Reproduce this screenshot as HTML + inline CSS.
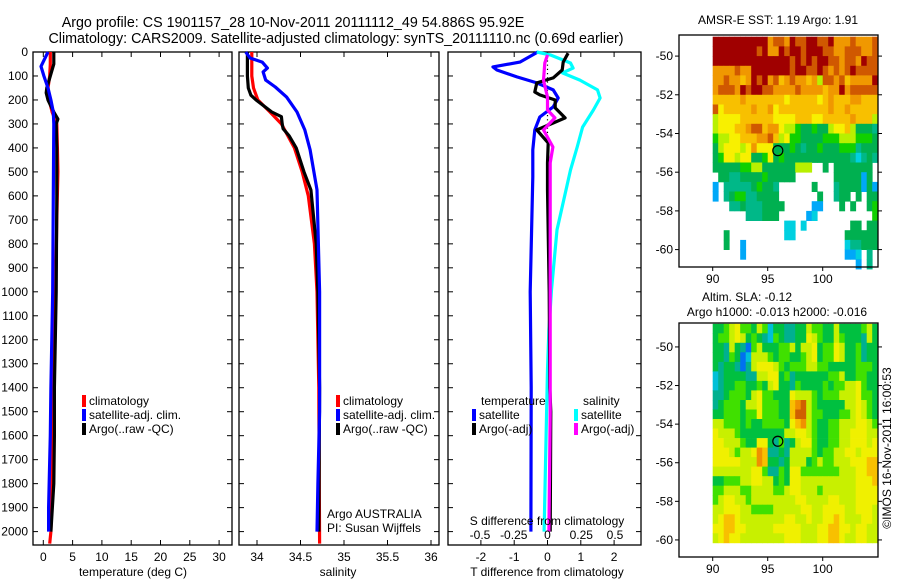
<!DOCTYPE html>
<html><head><meta charset="utf-8">
<style>
html,body{margin:0;padding:0;background:#fff;}
svg{display:block;font-family:"Liberation Sans",sans-serif;}
text{font-size:12px;fill:#000;}
</style></head>
<body>
<svg id="chart" width="900" height="580" viewBox="0 0 900 580" xmlns="http://www.w3.org/2000/svg">
<text x="293" y="27" text-anchor="middle" style="font-size:14.3px">Argo profile: CS 1901157_28 10-Nov-2011 20111112_49 54.886S 95.92E</text>
<text x="336" y="43" text-anchor="middle" style="font-size:14.3px">Climatology: CARS2009. Satellite-adjusted climatology: synTS_20111110.nc (0.69d earlier)</text>
<g id="g"></g>
</svg>
<script>
// ---------- data ----------
var tDepthClim = [0,50,100,150,200,250,300,400,500,700,1000,1400,1600,1800,2000,2050];
var tClim      = [1.2,1.2,1.1,0.8,1.0,1.5,2.3,2.4,2.5,2.3,2.1,1.7,1.6,1.5,1.3,1.1];
var tDepthSat  = [0,30,60,100,150,200,250,300,600,1000,1400,1600,1900,2000];
var tSat       = [0.8,0.2,-0.4,0.1,0.8,1.3,1.7,1.8,1.7,1.6,1.3,1.2,0.9,0.9];
var tDepthArgo = [0,50,100,150,170,200,250,280,300,400,600,1000,1400,1600,1800,2000];
var tArgo      = [1.8,1.8,1.2,0.6,0.5,0.8,1.8,2.5,2.2,2.3,2.3,2.2,1.9,1.9,1.8,1.3];

var sDepthClim = [0,100,150,200,250,300,400,500,600,800,1000,1400,2050];
var sClim      = [33.94,33.94,33.96,34.01,34.15,34.28,34.43,34.52,34.59,34.66,34.69,34.71,34.72];
var sDepthSat  = [0,25,42,67,83,117,146,188,250,325,408,575,1000,1500,1800,2000];
var sSat       = [33.87,33.92,34.06,34.12,34.07,34.10,34.21,34.34,34.46,34.55,34.61,34.69,34.72,34.72,34.70,34.69];
var sDepthArgo = [0,100,150,180,200,250,270,300,320,350,400,500,575,800,1000,1400,2000];
var sArgo      = [33.89,33.89,33.90,33.93,33.99,34.17,34.28,34.29,34.30,34.37,34.45,34.54,34.62,34.68,34.70,34.72,34.71];

var dtDepthSat = [0,42,62,75,104,129,158,192,229,271,325,408,521,1000,1400,2000];
var dtSat      = [-0.29,-0.83,-1.64,-1.52,-0.92,-0.32,0.17,0.32,0.17,-0.23,-0.38,-0.44,-0.44,-0.52,-0.49,-0.5];
var dtDepthArgo= [5,42,75,108,129,167,179,200,233,275,296,325,379,462,575,1000,1400,1500,2000];
var dtArgo     = [0.62,0.47,0.44,0.17,-0.32,-0.38,-0.23,0.23,0.23,0.53,0.17,-0.32,0.02,0,0,0.05,0.07,0.1,0.08];
var dsDepthSat = [0,12,46,67,87,117,158,192,242,313,396,492,742,992,1158,1325,1600,2000];
var dsSat      = [-0.08,0.02,0.17,0.19,0.11,0.24,0.37,0.39,0.34,0.26,0.22,0.17,0.07,0.03,0.01,0,-0.01,-0.025];
var dsDepthArgo= [12,46,117,188,242,275,325,396,462,521,1000,1500,2000];
var dsArgo     = [0,-0.02,-0.03,0,0,0.055,-0.03,0.04,0.02,0.02,0.02,0.02,0.01];

var depthTicks = [0,100,200,300,400,500,600,700,800,900,1000,1100,1200,1300,1400,1500,1600,1700,1800,1900,2000];
var tempTicks = [0,5,10,15,20,25,30];
var salTicks = [34,34.5,35,35.5,36];
var salTickLabels = ["34","34.5","35","35.5","36"];
var dtTicks = [-2,-1,0,1,2];
var dsTicks = [-0.5,-0.25,0,0.25,0.5];
var dsTickLabels = ["-0.5","-0.25","0","0.25","0.5"];
var lonTicks = [90,95,100];
var latTicks = [-50,-52,-54,-56,-58,-60];

// SST map rows (lat -49 .. -60.5 step 0.5, lon 90..105 step 0.5); '.' = missing
var sstRows = [
"aaaaaaaaaa8998a99aa99a88898889",
"aaaaaaaa9a88a9aa9aaa9988999889",
"aaaaaaaaaaaaaa9a9a9aa998998a99",
"8888988aaaaaaa9aa99a98989a9999",
"8898878a9a8978988785998978888a",
"89998a9aa99888898888788a899999",
"777778777777767777767877788777",
"967777787786777777777877877777",
"566667777776666777667777787775",
"566677899788655433433566753332",
"455667778897564433334445554443",
"356665686663334323343334442333",
"346656633463433333333333321232",
"333334455333333555..3.3333333",
".33223333433333.......3333303",
"0.2222234332......3...23333030",
"0.2344223333.......3..233.3.33",
"...2232223333.....00...3.3..34",
"......222333.....01..........4",
".............11.1........33.33",
"..3..........11.........333333",
"..3..0..................122333",
".....0..................001.2.",
"..........................0.2."
];
var sstColors = {"0":"#00a8f8","1":"#00d0e0","2":"#00b888","3":"#00b050","4":"#10d000","5":"#b8f000","6":"#f8f000","7":"#f8c000","8":"#f09800","9":"#d05800","a":"#a00000"};

// SLA map rows (lat -48.8 .. -60.15, 23 rows; lon 90..105 step 0.5)
var slaRows = [
"334564435413322335443353333453",
"344565343214322336543354333253",
"332532045333445355634465334233",
"332430155543443345634465334233",
"323320256665434445544333334443",
"123333225566342333333445334433",
"123344334356332433334344556433",
"223444356443336555434445556443",
"234443556444337895433333556543",
"334443446444337995443334456543",
"554443433444436785433445556654",
"655543333333355665433445566655",
"665554336632423566433445566656",
"666545568722325555434455665666",
"666665558733235553454455566677",
"555555566422436644444445556677",
"334445566553436655555555556667",
"445554455554456655545555556666",
"456655455555555665555665556666",
"556665544445555566556666556665",
"567765555555566556556676555665",
"667766555556666655566776656655",
"567665555555566655566776556655"
];
var slaColors = {"0":"#0070f0","1":"#00c0d8","2":"#00b090","3":"#00c040","4":"#40e000","5":"#c8f000","6":"#f0f000","7":"#f8c000","8":"#f09000","9":"#d06000"};

// ---------- scales ----------
var NS="http://www.w3.org/2000/svg";
var G=document.getElementById('g');
function el(tag,attrs,parent){var e=document.createElementNS(NS,tag);for(var k in attrs)e.setAttribute(k,attrs[k]);(parent||G).appendChild(e);return e;}
var Y0=52, YPX=0.2398;
function yD(d){return Y0+d*YPX;}
function xT(t){return 43.3+t*5.86;}
function xS(s){return 257+(s-34)*87;}
function xDT(t){return 547.5+t*33.3;}
function xDS(s){return 547.5+s*135;}

function frame(x1,x2,y1,y2,name){
  var r=el('rect',{x:x1,y:y1,width:x2-x1,height:y2-y1,fill:'none',stroke:'#000','stroke-width':1.3});
  
  
}
function line(xs,ds,xf,color,name){
  var p=[];for(var i=0;i<xs.length;i++)p.push(xf(xs[i]).toFixed(1)+','+yD(ds[i]).toFixed(1));
  var l=el('polyline',{points:p.join(' '),fill:'none',stroke:color,'stroke-width':3.2,'stroke-linejoin':'round'});
  
  
}
function txt(x,y,s,anchor,name,size){
  var t=el('text',{x:x,y:y,'text-anchor':anchor||'start'});
  if(size)t.style.fontSize=size+'px';
  t.textContent=s;
  
  
  return t;
}
var BOT=545;
function depthAxis(x1,x2,labels){
  depthTicks.forEach(function(d){
    var y=yD(d);
    el('line',{x1:x1,y1:y,x2:x1+5,y2:y,stroke:'#000','stroke-width':1});
    el('line',{x1:x2,y1:y,x2:x2-5,y2:y,stroke:'#000','stroke-width':1});
    if(labels)txt(28,y+4,String(d),'end','depth-tick-label');
  });
}
function xAxis(vals,labels,xf){
  vals.forEach(function(v,i){
    var x=xf(v);
    el('line',{x1:x,y1:Y0,x2:x,y2:Y0+5,stroke:'#000','stroke-width':1});
    el('line',{x1:x,y1:BOT,x2:x,y2:BOT-5,stroke:'#000','stroke-width':1});
    txt(x,561,labels[i],'middle','x-tick-label');
  });
}

// Panel 1: temperature
frame(33,232,Y0,BOT,'temperature-panel');
depthAxis(33,232,true);
xAxis(tempTicks,tempTicks.map(String),xT);
txt(133,576,'temperature (deg C)','middle','temperature-axis-title');
line(tClim,tDepthClim,xT,'#ff0000','temp-climatology-line');
line(tArgo,tDepthArgo,xT,'#000000','temp-argo-line');
line(tSat,tDepthSat,xT,'#0000ff','temp-satellite-line');

// Panel 2: salinity
frame(239,439,Y0,BOT,'salinity-panel');
depthAxis(239,439,false);
xAxis(salTicks,salTickLabels,xS);
txt(338,576,'salinity','middle','salinity-axis-title');
line(sClim,sDepthClim,xS,'#ff0000','sal-climatology-line');
line(sArgo,sDepthArgo,xS,'#000000','sal-argo-line');
line(sSat,sDepthSat,xS,'#0000ff','sal-satellite-line');

// Panel 3: differences
frame(448,641,Y0,BOT,'difference-panel');
depthAxis(448,641,false);
xAxis(dtTicks,dtTicks.map(String),xDT);
txt(547,576,'T difference from climatology','middle','t-difference-axis-title');
el('line',{x1:xDT(0),y1:Y0,x2:xDT(0),y2:yD(600),stroke:'#000','stroke-width':1.2,'stroke-dasharray':'1.2,3'});
line(dtSat,dtDepthSat,xDT,'#0000ff','tdiff-satellite-line');
line(dsSat,dsDepthSat,xDS,'#00ffff','sdiff-satellite-line');
line(dtArgo,dtDepthArgo,xDT,'#000000','tdiff-argo-line');
line(dsArgo,dsDepthArgo,xDS,'#ff00ff','sdiff-argo-line');
txt(547,525,'S difference from climatology','middle','s-difference-axis-title');
dsTicks.forEach(function(v,i){txt(xDS(v),539,dsTickLabels[i],'middle','s-tick-label');});

// legends
function legendEntry(x,y,color,label,name){
  var r=el('rect',{x:x,y:y-10,width:4,height:12,fill:color});
  
  
  txt(x+7,y,label,'start',name);
}
legendEntry(82,405,'#ff0000','climatology','legend-climatology');
legendEntry(82,419,'#0000ff','satellite-adj. clim.','legend-satellite');
legendEntry(82,433,'#000000','Argo(..raw -QC)','legend-argo');
legendEntry(336,405,'#ff0000','climatology','legend2-climatology');
legendEntry(336,419,'#0000ff','satellite-adj. clim.','legend2-satellite');
legendEntry(336,433,'#000000','Argo(..raw -QC)','legend2-argo');
txt(481,405,'temperature','start','legend-temperature-heading');
legendEntry(472,419,'#0000ff','satellite','legend-t-satellite');
legendEntry(472,433,'#000000','Argo(-adj)','legend-t-argo');
txt(583,405,'salinity','start','legend-salinity-heading');
legendEntry(574,419,'#00ffff','satellite','legend-s-satellite');
legendEntry(574,433,'#ff00ff','Argo(-adj)','legend-s-argo');
txt(327,518,'Argo AUSTRALIA','start','argo-australia-label');
txt(327,532,'PI: Susan Wijffels','start','pi-label');

// ---------- maps ----------
function drawMap(rows,colors,top,bottom,latTop,latPx,dataLatTop,dataLatBot,name,title1,t1x,t1y,title2,t2x,t2y){
  var x1=679,x2=878;
  function lx(lon){return 712.7+(lon-90)*11;}
  function ly(lat){return top+(latTop-lat)*latPx;}
  var gm=el('g',{});
  
  
  var nr=rows.length, dLat=(dataLatTop-dataLatBot)/nr;
  rows.forEach(function(row,i){
    for(var j=0;j<row.length;j++){
      var c=row[j]; if(c==='.')continue;
      var lon=90+j*0.5, lat=dataLatTop-i*dLat;
      var r=el('rect',{x:lx(lon).toFixed(1),y:ly(lat).toFixed(1),width:'5.9',height:(dLat*latPx+0.4).toFixed(1),fill:colors[c]},gm);
      
      
    }
  });
  var c=el('circle',{cx:lx(95.92),cy:ly(-54.886),r:5,fill:'none',stroke:'#000','stroke-width':1.2});
  
  
  frame(x1,x2,top,bottom,name+'-frame');
  lonTicks.forEach(function(v){
    var x=lx(v);
    el('line',{x1:x,y1:bottom,x2:x,y2:bottom+4,stroke:'#000'});
    txt(x,bottom+16,String(v),'middle','lon-tick-label');
  });
  latTicks.forEach(function(v){
    var y=ly(v);
    el('line',{x1:x1,y1:y,x2:x1-4,y2:y,stroke:'#000'});
    el('line',{x1:x2,y1:y,x2:x2+4,y2:y,stroke:'#000'});
    txt(673,y+4,String(v),'end','lat-tick-label');
  });
  if(title1)txt(t1x,t1y,title1,'middle',name+'-title');
  if(title2)txt(t2x,t2y,title2,'middle',name+'-subtitle');
}
drawMap(sstRows,sstColors,35,267,-48.91,19.35,-49.0,-61.0,'sst-map','AMSR-E SST: 1.19 Argo: 1.91',778,24,null);
drawMap(slaRows,slaColors,323,557,-48.76,19.3,-48.8,-60.15,'sla-map','Altim. SLA: -0.12',747,301,'Argo h1000: -0.013 h2000: -0.016',777,316);
var cr=txt(0,0,'\u00a9IMOS 16-Nov-2011 16:00:53','middle','imos-credit');
cr.setAttribute('transform','translate(891,448) rotate(-90)');
</script>
</body></html>
